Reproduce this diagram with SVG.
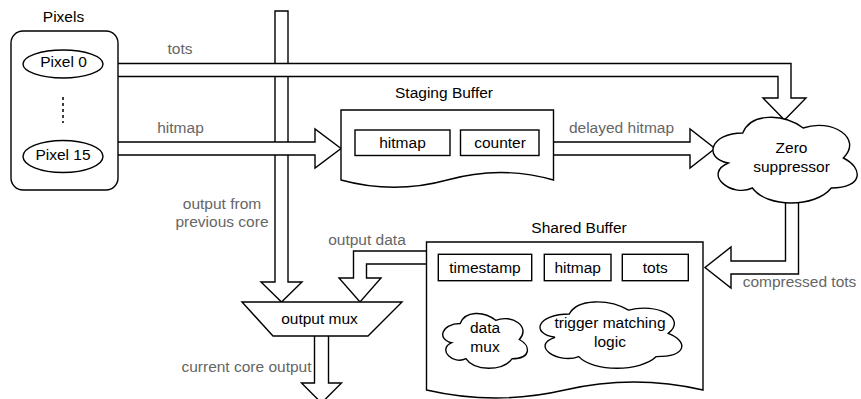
<svg xmlns="http://www.w3.org/2000/svg" width="861" height="399" viewBox="0 0 861 399">
<style>
.s{fill:#fff;stroke:#000;stroke-width:1.4;stroke-linejoin:miter}
.a{fill:#fff;stroke:#000;stroke-width:1.4;stroke-linejoin:miter}
.t{font-family:"Liberation Sans",Arial,Helvetica,sans-serif;font-size:15.5px;fill:#000;text-anchor:middle}
.g{font-family:"Liberation Sans",Arial,Helvetica,sans-serif;font-size:15.5px;fill:#666;text-anchor:middle}
</style>
<rect width="861" height="399" fill="#fff"/>
<g id="connectors">
  <polygon class="a" points="275,11 288,11 288,282 302,282 281.5,302 261,282 275,282"/>
  <polygon class="a" points="115,63.5 791,63.5 791,98 806,98 784.5,120 763,98 778,98 778,76.5 115,76.5"/>
  <polygon class="a" points="115,142 315,142 315,129 341,148.5 315,168 315,155 115,155"/>
  <polygon class="a" points="550,142 690,142 690,129 715,148.5 690,168 690,155 550,155"/>
  <polygon class="a" points="785.5,195 798.5,195 798.5,274 731,274 731,288 705,267.5 731,247 731,261 785.5,261"/>
  <polygon class="a" points="430,251 353.5,251 353.5,278 339,278 360,302 381,278 366.5,278 366.5,264 430,264"/>
  <polygon class="a" points="314.5,333 328.5,333 328.5,383 341.5,383 321.5,403 301.5,383 314.5,383"/>
  <text class="g" x="180" y="54">tots</text>
  <text class="g" x="180.5" y="133.3">hitmap</text>
  <text class="g" x="621.5" y="133">delayed hitmap</text>
  <text class="g" x="222" y="208.5">output from</text>
  <text class="g" x="222" y="227">previous core</text>
  <text class="g" x="367" y="245">output data</text>
  <text class="g" x="246.5" y="371.5">current core output</text>
  <text class="g" x="799.5" y="287">compressed tots</text>
</g>
<g id="pixels">
  <text class="t" x="63.5" y="22">Pixels</text>
  <rect class="s" x="11" y="31" width="107" height="159" rx="12" ry="12"/>
  <g id="pixel0">
    <ellipse class="s" cx="63" cy="64" rx="40" ry="14"/>
    <text class="t" x="63.5" y="66.7">Pixel 0</text>
  </g>
  <line x1="63" y1="97" x2="63" y2="123" stroke="#000" stroke-width="1.5" stroke-dasharray="3 3"/>
  <g id="pixel15">
    <ellipse class="s" cx="63" cy="156.5" rx="40" ry="16"/>
    <text class="t" x="63" y="159.5">Pixel 15</text>
  </g>
</g>
<g id="staging-buffer">
  <text class="t" x="444" y="98.3">Staging Buffer</text>
  <path class="s" d="M341,110 H553.5 V180 Q500.3,164.9 447.25,180 Q394.1,194.6 341,180 Z"/>
  <rect class="s" x="355" y="130" width="95" height="25.5"/>
  <text class="t" x="402.5" y="148">hitmap</text>
  <rect class="s" x="460.5" y="130" width="78.5" height="25.5"/>
  <text class="t" x="500" y="148">counter</text>
</g>
<g id="zero-suppressor">
  <path class="s" d="M742.75,133 C710.55,133 702.5,158 728.26,163 C702.5,174 731.48,198 752.41,188 C766.9,208 815.2,208 831.3,188 C863.5,188 863.5,168 843.38,158 C863.5,138 831.3,118 803.13,128 C783,113 750.8,113 742.75,133 Z"/>
  <text class="t" x="791.5" y="153">Zero</text>
  <text class="t" x="791.5" y="171.5">suppressor</text>
</g>
<g id="shared-buffer">
  <text class="t" x="579" y="233.3">Shared Buffer</text>
  <path class="s" d="M426.5,242 H703 V390 Q633.9,374 564.75,390 Q495.6,406 426.5,390 Z"/>
  <rect class="s" x="438.3" y="254.3" width="93.4" height="26.4"/>
  <text class="t" x="485" y="272.5">timestamp</text>
  <rect class="s" x="544.3" y="254.3" width="66.7" height="26.4"/>
  <text class="t" x="577.7" y="272.5">hitmap</text>
  <rect class="s" x="622.3" y="254.3" width="66" height="26.4"/>
  <text class="t" x="655.3" y="272.5">tots</text>
  <g id="data-mux">
    <path class="s" d="M460.2,323.5 C441.3,323.5 436.6,339.5 451.7,342.7 C436.6,349.7 453.6,365.1 465.9,358.7 C474.4,371.5 502.8,371.5 512.2,358.7 C531.1,358.7 531.1,345.9 519.3,339.5 C531.1,326.7 512.2,313.9 495.7,320.3 C483.850,310.7 465,310.7 460.2,323.5 Z"/>
    <text class="t" x="485" y="333.3">data</text>
    <text class="t" x="485" y="351.7">mux</text>
  </g>
  <g id="trigger-matching">
    <path class="s" d="M569.3,314.05 C537.6,314.05 529.7,333.4 555,337.3 C529.7,345.8 558.2,364.4 578.8,356.6 C593,372.1 640.5,372.1 656.3,356.6 C688,356.6 688,341.1 668.2,333.4 C688,317.9 656.3,302.4 628.6,310.2 C608.85,298.6 577.2,298.6 569.3,314.05 Z"/>
    <text class="t" x="610" y="328.3">trigger matching</text>
    <text class="t" x="610" y="346.7">logic</text>
  </g>
</g>
<g id="output-mux">
  <polygon class="s" points="242,302 402,302 368,336 273,336"/>
  <text class="t" x="319.5" y="324">output mux</text>
</g>
</svg>
